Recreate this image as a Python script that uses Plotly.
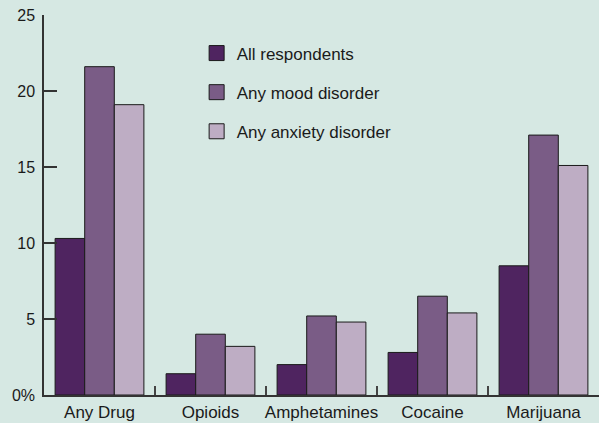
import plotly.graph_objects as go

categories = ["Any Drug", "Opioids", "Amphetamines", "Cocaine", "Marijuana"]
all_respondents = [10.3, 1.4, 2.0, 2.8, 8.5]
mood_disorder = [21.6, 4.0, 5.2, 6.5, 17.1]
anxiety_disorder = [19.1, 3.2, 4.8, 5.4, 15.1]
series_names = ["All respondents", "Any mood disorder", "Any anxiety disorder"]
colors = ["#4F2460", "#7A5C86", "#BEADC4"]
y_tickvals = [0, 5, 10, 15, 20, 25]
y_ticktext = ["0%", "5", "10", "15", "20", "25"]

fig = go.Figure()
for i, (name, vals) in enumerate(zip(series_names, [all_respondents, mood_disorder, anxiety_disorder])):
    fig.add_trace(go.Bar(
        x=categories, y=vals, name=name, legendgroup=name, showlegend=False,
        marker=dict(color=colors[i], line=dict(color="#1a1a1a", width=1)),
    ))
# legend entries with larger square swatches
for i, name in enumerate(series_names):
    fig.add_trace(go.Scatter(
        x=[None], y=[None], mode="markers", name=name, legendgroup=name,
        marker=dict(symbol="square", size=15, color=colors[i], line=dict(color="#1a1a1a", width=1)),
    ))

bg = "#D6E8E3"
fig.update_layout(
    width=599, height=423,
    paper_bgcolor=bg, plot_bgcolor=bg,
    margin=dict(l=44, r=0, t=15, b=28),
    barmode="group", bargap=0.2, bargroupgap=0,
    font=dict(family="Liberation Sans, Arial, sans-serif", size=16, color="#1a1a1a"),
    showlegend=True,
    legend=dict(x=0.275, y=0.946, xanchor="left", yanchor="top",
                bgcolor="rgba(0,0,0,0)", font=dict(size=17),
                traceorder="grouped", tracegroupgap=14),
    xaxis=dict(showline=True, linecolor="#333", linewidth=1.5, automargin=False,
               ticks="inside", tickson="boundaries", ticklen=9, tickcolor="#444", tickwidth=1.5,
               tickangle=0, ticklabelstandoff=1,
               showgrid=False, zeroline=False, tickfont=dict(size=17)),
    yaxis=dict(range=[0, 25], tickvals=y_tickvals, ticktext=y_ticktext, automargin=False,
               showline=True, linecolor="#333", linewidth=1.5,
               ticks="inside", ticklen=13, tickcolor="#333", tickwidth=1.5,
               ticklabelstandoff=4,
               showgrid=False, zeroline=False, tickfont=dict(size=16)),
)

fig.write_html("out.html", config={"displayModeBar": False},
               post_script="document.body.style.margin='0';document.body.style.overflow='hidden';")
